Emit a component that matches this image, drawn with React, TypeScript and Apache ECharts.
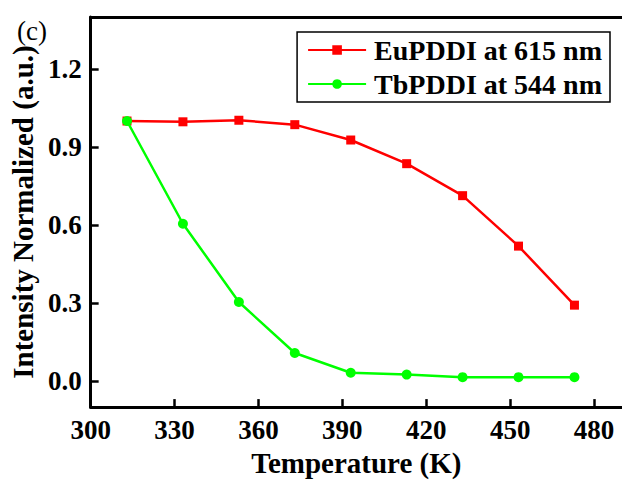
import React, { useEffect, useRef } from "react";
import * as echarts from "echarts";

const temperatures = [313, 333, 353, 373, 393, 413, 433, 453, 473];
const euValues = [1.0, 0.997, 1.003, 0.986, 0.927, 0.836, 0.713, 0.519, 0.292];
const tbValues = [1.0, 0.605, 0.304, 0.108, 0.032, 0.025, 0.015, 0.015, 0.015];
const xTicks = [300, 330, 360, 390, 420, 450, 480];
const yTicks = [0.0, 0.3, 0.6, 0.9, 1.2];
const seriesNames = ["EuPDDI at 615 nm", "TbPDDI at 544 nm"];

const FONT = "Liberation Serif, Times New Roman, serif";

export default function App() {
  const ref = useRef<HTMLDivElement>(null);
  useEffect(() => {
    document.body.style.margin = "0";
    const chart = echarts.init(ref.current!, null, { renderer: "svg" });
    const pair = (vals: number[]) => temperatures.map((t, i) => [t, vals[i]]);
    const labelStyle = {
      fontFamily: FONT,
      fontWeight: "bold",
      fontSize: 27,
      color: "#000",
    };
    chart.setOption({
      animation: false,
      backgroundColor: "#ffffff",
      textStyle: { fontFamily: FONT },
      grid: {
        left: 89,
        top: 17,
        right: -3,
        bottom: 70,
        show: false,
      },
      graphic: [
        {
          type: "text",
          left: 17,
          top: 17,
          style: { text: "(c)", font: `normal 27px ${FONT}`, fill: "#000" },
        },
      ],
      legend: {
        show: true,
        orient: "vertical",
        right: 12,
        top: 32,
        borderColor: "#000",
        borderWidth: 1.5,
        padding: [4, 8, 4, 10],
        itemWidth: 58,
        itemHeight: 12,
        itemGap: 6,
        textStyle: {
          fontFamily: FONT,
          fontWeight: "bold",
          fontSize: 28,
          color: "#000",
          padding: [0, 0, 0, 3],
        },
        data: seriesNames,
      },
      xAxis: [
        {
          type: "value",
          min: 300,
          max: 490,
          position: "bottom",
          name: "Temperature (K)",
          nameLocation: "middle",
          nameGap: 38,
          nameTextStyle: { fontFamily: FONT, fontWeight: "bold", fontSize: 29, color: "#000" },
          axisLine: { show: true, onZero: false, lineStyle: { color: "#000", width: 3 } },
          axisTick: { show: true, inside: true, length: 8, lineStyle: { color: "#000", width: 2.5 }, customValues: xTicks },
          axisLabel: {
            show: true,
            margin: 9,
            ...labelStyle,
            customValues: xTicks,
            formatter: (v: number) => String(v),
          },
          splitLine: { show: false },
        },
        {
          type: "value",
          min: 300,
          max: 490,
          position: "top",
          axisLine: { show: true, onZero: false, lineStyle: { color: "#000", width: 3 } },
          axisTick: { show: false },
          axisLabel: { show: false },
          splitLine: { show: false },
        },
      ],
      yAxis: {
        type: "value",
        min: -0.1,
        max: 1.4,
        name: "Intensity Normalized (a.u.)",
        nameLocation: "middle",
        nameGap: 52,
        nameTextStyle: { fontFamily: FONT, fontWeight: "bold", fontSize: 29, color: "#000" },
        axisLine: { show: true, onZero: false, lineStyle: { color: "#000", width: 3 } },
        axisTick: { show: true, inside: true, length: 8, lineStyle: { color: "#000", width: 2.5 }, customValues: yTicks },
        axisLabel: {
          show: true,
          margin: 9,
          ...labelStyle,
          customValues: yTicks,
          formatter: (v: number) => v.toFixed(1),
        },
        splitLine: { show: false },
      },
      series: [
        {
          name: seriesNames[0],
          type: "line",
          data: pair(euValues),
          symbol: "rect",
          symbolSize: 9,
          lineStyle: { color: "#ff0000", width: 2.5 },
          itemStyle: { color: "#ff0000" },
          z: 2,
        },
        {
          name: seriesNames[1],
          type: "line",
          data: pair(tbValues),
          symbol: "circle",
          symbolSize: 10,
          lineStyle: { color: "#00ff00", width: 2.5 },
          itemStyle: { color: "#00ff00" },
          z: 3,
        },
      ],
    });
    return () => chart.dispose();
  }, []);
  return <div ref={ref} style={{ width: 622, height: 482 }} />;
}
